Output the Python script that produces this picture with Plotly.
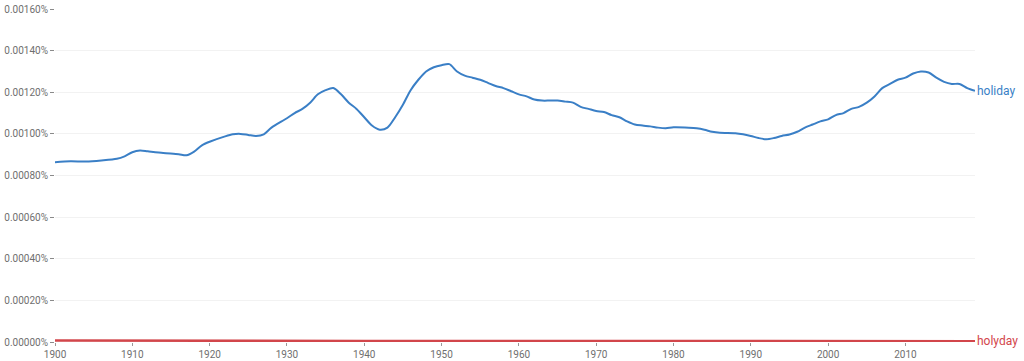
import plotly.graph_objects as go

years = [1900, 1902, 1904, 1906, 1908, 1909, 1910, 1911, 1912, 1914, 1916, 1917, 1918, 1919,
         1920, 1922, 1923, 1924, 1925, 1926, 1927, 1928, 1930, 1931, 1932, 1933, 1934, 1935,
         1936, 1937, 1938, 1939, 1940, 1941, 1942, 1943, 1944, 1945, 1946, 1947, 1948, 1949,
         1950, 1951, 1952, 1953, 1954, 1955, 1956, 1957, 1958, 1959, 1960, 1961, 1962, 1963,
         1964, 1965, 1966, 1967, 1968, 1969, 1970, 1971, 1972, 1973, 1974, 1975, 1976, 1977,
         1978, 1979, 1980, 1982, 1983, 1984, 1985, 1986, 1988, 1989, 1990, 1991, 1992, 1993,
         1994, 1995, 1996, 1997, 1998, 1999, 2000, 2001, 2002, 2003, 2004, 2005, 2006, 2007,
         2008, 2009, 2010, 2011, 2012, 2013, 2014, 2015, 2016, 2017, 2018, 2019]
holiday = [0.000864, 0.000868, 0.000867, 0.000872, 0.00088, 0.000892, 0.000912, 0.00092,
           0.000916, 0.000908, 0.000902, 0.000897, 0.000915, 0.000945, 0.000962, 0.000988,
           0.000998, 0.001, 0.000995, 0.00099, 0.000998, 0.00103, 0.001075, 0.0011, 0.00112,
           0.00115, 0.00119, 0.00121, 0.00122, 0.00119, 0.00115, 0.00112, 0.00108, 0.00104,
           0.00102, 0.00103, 0.00108, 0.00114, 0.00121, 0.00126, 0.0013, 0.00132, 0.00133,
           0.001335, 0.0013, 0.00128, 0.00127, 0.00126, 0.001245, 0.00123, 0.00122, 0.001205,
           0.00119, 0.00118, 0.001165, 0.00116, 0.00116, 0.00116, 0.001155, 0.00115, 0.00113,
           0.00112, 0.00111, 0.001105, 0.00109, 0.00108, 0.00106, 0.001045, 0.00104, 0.001036,
           0.00103, 0.001027, 0.001032, 0.00103, 0.001027, 0.00102, 0.00101, 0.001005, 0.001003,
           0.000998, 0.00099, 0.00098, 0.000974, 0.00098, 0.00099, 0.000997, 0.00101, 0.00103,
           0.001045, 0.00106, 0.00107, 0.00109, 0.0011, 0.00112, 0.00113, 0.00115, 0.00118,
           0.00122, 0.00124, 0.00126, 0.00127, 0.00129, 0.0013, 0.001295, 0.00127, 0.00125,
           0.00124, 0.00124, 0.00122, 0.001207]
holyday_years = [1900, 1920, 1940, 1960, 1980, 2000, 2019]
holyday = [0.000007, 0.000005, 0.000005, 0.000005, 0.000004, 0.000004, 0.000004]

y_ticks = [0.0, 0.0002, 0.0004, 0.0006, 0.0008, 0.0010, 0.0012, 0.0014, 0.0016]
y_labels = [f"{v:.5f}%" for v in y_ticks]
x_ticks = [1900, 1910, 1920, 1930, 1940, 1950, 1960, 1970, 1980, 1990, 2000, 2010]

blue = "#3a7fc6"
red = "#d2464b"
gray = "#6f6f6f"

fig = go.Figure()
fig.add_trace(go.Scatter(x=years, y=holiday, mode="lines", line=dict(color=blue, width=2, shape="spline", smoothing=0.8),
                         name="holiday", showlegend=False, cliponaxis=False))
fig.add_trace(go.Scatter(x=holyday_years, y=holyday, mode="lines", line=dict(color=red, width=2.5),
                         name="holyday", showlegend=False, cliponaxis=False))

fig.add_annotation(x=years[-1], y=holiday[-1], text="holiday", showarrow=False, xanchor="left",
                   xshift=0, font=dict(color=blue, size=12, family="Roboto"))
fig.add_annotation(x=holyday_years[-1], y=holyday[-1], text="holyday", showarrow=False, xanchor="left",
                   xshift=0, font=dict(color=red, size=12, family="Roboto"))

fig.update_layout(
    width=1024, height=361,
    margin=dict(l=55, r=49, t=9, b=19, autoexpand=False),
    paper_bgcolor="white", plot_bgcolor="white",
    font=dict(family="Roboto", size=10, color=gray),
)
fig.update_xaxes(range=[1900, 2019], tickvals=x_ticks, ticks="outside", ticklen=3, tickcolor="#999999",
                 showgrid=False, zeroline=False, showline=False, automargin=False,
                 tickfont=dict(size=10, color=gray))
fig.update_yaxes(range=[0, 0.0016], tickvals=y_ticks, ticktext=y_labels,
                 showgrid=True, gridcolor="#f2f2f2", zeroline=False, showline=False, automargin=False,
                 tickfont=dict(size=10, color=gray), ticks="outside", ticklen=4, tickcolor="#8a8a8a")

fig.write_html("out.html", config={"displayModeBar": False},
               post_script="document.body.style.margin='0';document.body.style.overflow='hidden';")
